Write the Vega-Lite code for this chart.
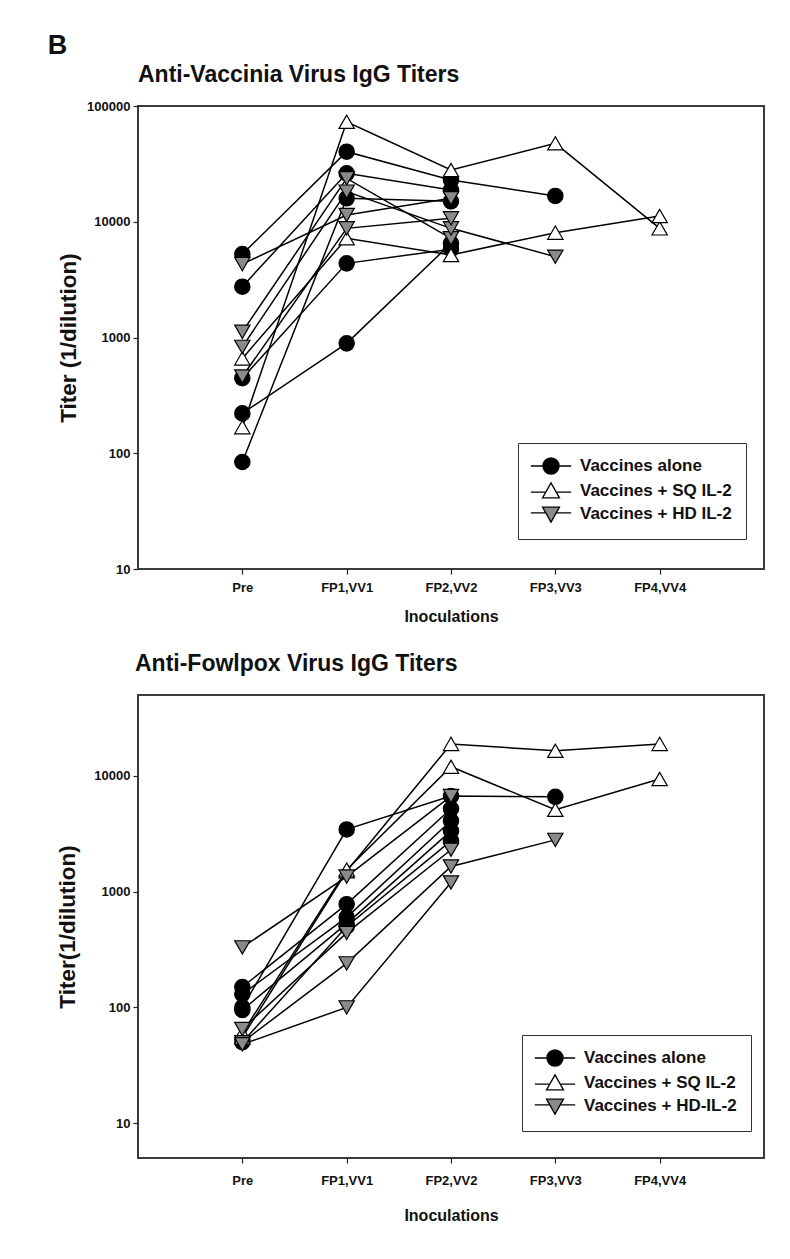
{
  "$schema": "https://vega.github.io/schema/vega-lite/v6.json",
  "background": "white",
  "padding": {"left": 47, "top": 32, "right": 10, "bottom": 5},
  "title": {"text": "B", "anchor": "start", "fontSize": 27, "fontWeight": "bold", "font": "Liberation Sans", "dx": -8, "offset": 3, "color": "#111"},
  "datasets": {
    "vacc": [
      {"id": "C1", "group": "Vaccines alone", "time": "Pre", "step": 0, "titer": 5250},
      {"id": "C1", "group": "Vaccines alone", "time": "FP1,VV1", "step": 1, "titer": 40300},
      {"id": "C1", "group": "Vaccines alone", "time": "FP2,VV2", "step": 2, "titer": 22950},
      {"id": "C1", "group": "Vaccines alone", "time": "FP3,VV3", "step": 3, "titer": 16700},
      {"id": "C2", "group": "Vaccines alone", "time": "Pre", "step": 0, "titer": 2750},
      {"id": "C2", "group": "Vaccines alone", "time": "FP1,VV1", "step": 1, "titer": 26200},
      {"id": "C2", "group": "Vaccines alone", "time": "FP2,VV2", "step": 2, "titer": 18800},
      {"id": "C3", "group": "Vaccines alone", "time": "Pre", "step": 0, "titer": 445},
      {"id": "C3", "group": "Vaccines alone", "time": "FP1,VV1", "step": 1, "titer": 4370},
      {"id": "C3", "group": "Vaccines alone", "time": "FP2,VV2", "step": 2, "titer": 5800},
      {"id": "C4", "group": "Vaccines alone", "time": "Pre", "step": 0, "titer": 221},
      {"id": "C4", "group": "Vaccines alone", "time": "FP1,VV1", "step": 1, "titer": 890},
      {"id": "C4", "group": "Vaccines alone", "time": "FP2,VV2", "step": 2, "titer": 6500},
      {"id": "C5", "group": "Vaccines alone", "time": "Pre", "step": 0, "titer": 84},
      {"id": "C5", "group": "Vaccines alone", "time": "FP1,VV1", "step": 1, "titer": 15950},
      {"id": "C5", "group": "Vaccines alone", "time": "FP2,VV2", "step": 2, "titer": 15000},
      {"id": "U1", "group": "Vaccines + SQ IL-2", "time": "Pre", "step": 0, "titer": 168},
      {"id": "U1", "group": "Vaccines + SQ IL-2", "time": "FP1,VV1", "step": 1, "titer": 73100},
      {"id": "U1", "group": "Vaccines + SQ IL-2", "time": "FP2,VV2", "step": 2, "titer": 28000},
      {"id": "U1", "group": "Vaccines + SQ IL-2", "time": "FP3,VV3", "step": 3, "titer": 47600},
      {"id": "U1", "group": "Vaccines + SQ IL-2", "time": "FP4,VV4", "step": 4, "titer": 8770},
      {"id": "U2", "group": "Vaccines + SQ IL-2", "time": "Pre", "step": 0, "titer": 660},
      {"id": "U2", "group": "Vaccines + SQ IL-2", "time": "FP1,VV1", "step": 1, "titer": 7190},
      {"id": "U2", "group": "Vaccines + SQ IL-2", "time": "FP2,VV2", "step": 2, "titer": 5160},
      {"id": "U2", "group": "Vaccines + SQ IL-2", "time": "FP3,VV3", "step": 3, "titer": 8050},
      {"id": "U2", "group": "Vaccines + SQ IL-2", "time": "FP4,VV4", "step": 4, "titer": 11200},
      {"id": "D1", "group": "Vaccines + HD IL-2", "time": "Pre", "step": 0, "titer": 4310},
      {"id": "D1", "group": "Vaccines + HD IL-2", "time": "FP1,VV1", "step": 1, "titer": 11430},
      {"id": "D1", "group": "Vaccines + HD IL-2", "time": "FP2,VV2", "step": 2, "titer": 15950},
      {"id": "D2", "group": "Vaccines + HD IL-2", "time": "Pre", "step": 0, "titer": 1120},
      {"id": "D2", "group": "Vaccines + HD IL-2", "time": "FP1,VV1", "step": 1, "titer": 23700},
      {"id": "D2", "group": "Vaccines + HD IL-2", "time": "FP2,VV2", "step": 2, "titer": 7190},
      {"id": "D3", "group": "Vaccines + HD IL-2", "time": "Pre", "step": 0, "titer": 830},
      {"id": "D3", "group": "Vaccines + HD IL-2", "time": "FP1,VV1", "step": 1, "titer": 18200},
      {"id": "D3", "group": "Vaccines + HD IL-2", "time": "FP2,VV2", "step": 2, "titer": 8770},
      {"id": "D3", "group": "Vaccines + HD IL-2", "time": "FP3,VV3", "step": 3, "titer": 4990},
      {"id": "D4", "group": "Vaccines + HD IL-2", "time": "Pre", "step": 0, "titer": 460},
      {"id": "D4", "group": "Vaccines + HD IL-2", "time": "FP1,VV1", "step": 1, "titer": 8770},
      {"id": "D4", "group": "Vaccines + HD IL-2", "time": "FP2,VV2", "step": 2, "titer": 10700}
    ],
    "fowl": [
      {"id": "C1", "group": "Vaccines alone", "time": "Pre", "step": 0, "titer": 100},
      {"id": "C1", "group": "Vaccines alone", "time": "FP1,VV1", "step": 1, "titer": 3450},
      {"id": "C1", "group": "Vaccines alone", "time": "FP2,VV2", "step": 2, "titer": 6700},
      {"id": "C1", "group": "Vaccines alone", "time": "FP3,VV3", "step": 3, "titer": 6600},
      {"id": "C2", "group": "Vaccines alone", "time": "Pre", "step": 0, "titer": 150},
      {"id": "C2", "group": "Vaccines alone", "time": "FP1,VV1", "step": 1, "titer": 780},
      {"id": "C2", "group": "Vaccines alone", "time": "FP2,VV2", "step": 2, "titer": 5200},
      {"id": "C3", "group": "Vaccines alone", "time": "Pre", "step": 0, "titer": 130},
      {"id": "C3", "group": "Vaccines alone", "time": "FP1,VV1", "step": 1, "titer": 600},
      {"id": "C3", "group": "Vaccines alone", "time": "FP2,VV2", "step": 2, "titer": 4100},
      {"id": "C4", "group": "Vaccines alone", "time": "Pre", "step": 0, "titer": 95},
      {"id": "C4", "group": "Vaccines alone", "time": "FP1,VV1", "step": 1, "titer": 530},
      {"id": "C4", "group": "Vaccines alone", "time": "FP2,VV2", "step": 2, "titer": 3350},
      {"id": "C5", "group": "Vaccines alone", "time": "Pre", "step": 0, "titer": 50},
      {"id": "C5", "group": "Vaccines alone", "time": "FP1,VV1", "step": 1, "titer": 500},
      {"id": "C5", "group": "Vaccines alone", "time": "FP2,VV2", "step": 2, "titer": 2750},
      {"id": "U1", "group": "Vaccines + SQ IL-2", "time": "Pre", "step": 0, "titer": 55},
      {"id": "U1", "group": "Vaccines + SQ IL-2", "time": "FP1,VV1", "step": 1, "titer": 1500},
      {"id": "U1", "group": "Vaccines + SQ IL-2", "time": "FP2,VV2", "step": 2, "titer": 18900},
      {"id": "U1", "group": "Vaccines + SQ IL-2", "time": "FP3,VV3", "step": 3, "titer": 16500},
      {"id": "U1", "group": "Vaccines + SQ IL-2", "time": "FP4,VV4", "step": 4, "titer": 18900},
      {"id": "U2", "group": "Vaccines + SQ IL-2", "time": "Pre", "step": 0, "titer": 60},
      {"id": "U2", "group": "Vaccines + SQ IL-2", "time": "FP1,VV1", "step": 1, "titer": 1550},
      {"id": "U2", "group": "Vaccines + SQ IL-2", "time": "FP2,VV2", "step": 2, "titer": 12000},
      {"id": "U2", "group": "Vaccines + SQ IL-2", "time": "FP3,VV3", "step": 3, "titer": 5100},
      {"id": "U2", "group": "Vaccines + SQ IL-2", "time": "FP4,VV4", "step": 4, "titer": 9400},
      {"id": "D1", "group": "Vaccines + HD-IL-2", "time": "Pre", "step": 0, "titer": 330},
      {"id": "D1", "group": "Vaccines + HD-IL-2", "time": "FP1,VV1", "step": 1, "titer": 1350},
      {"id": "D1", "group": "Vaccines + HD-IL-2", "time": "FP2,VV2", "step": 2, "titer": 6700},
      {"id": "D2", "group": "Vaccines + HD-IL-2", "time": "Pre", "step": 0, "titer": 65},
      {"id": "D2", "group": "Vaccines + HD-IL-2", "time": "FP1,VV1", "step": 1, "titer": 440},
      {"id": "D2", "group": "Vaccines + HD-IL-2", "time": "FP2,VV2", "step": 2, "titer": 2300},
      {"id": "D3", "group": "Vaccines + HD-IL-2", "time": "Pre", "step": 0, "titer": 50},
      {"id": "D3", "group": "Vaccines + HD-IL-2", "time": "FP1,VV1", "step": 1, "titer": 240},
      {"id": "D3", "group": "Vaccines + HD-IL-2", "time": "FP2,VV2", "step": 2, "titer": 1650},
      {"id": "D3", "group": "Vaccines + HD-IL-2", "time": "FP3,VV3", "step": 3, "titer": 2800},
      {"id": "D4", "group": "Vaccines + HD-IL-2", "time": "Pre", "step": 0, "titer": 48},
      {"id": "D4", "group": "Vaccines + HD-IL-2", "time": "FP1,VV1", "step": 1, "titer": 100},
      {"id": "D4", "group": "Vaccines + HD-IL-2", "time": "FP2,VV2", "step": 2, "titer": 1200}
    ]
  },
  "spacing": 27,
  "resolve": {
    "scale": {"x": "independent", "y": "independent", "shape": "independent", "fill": "independent"},
    "legend": {"shape": "independent", "fill": "independent"}
  },
  "vconcat": [
    {
      "width": 626,
      "height": 463,
      "title": {"text": "Anti-Vaccinia Virus IgG Titers", "anchor": "start", "frame": "group", "fontSize": 23, "offset": 13},
      "data": {"name": "vacc"},
      "encoding": {
        "x": {"field": "time", "type": "ordinal", "title": "Inoculations",
              "scale": {"type": "point", "padding": 1, "domain": ["Pre", "FP1,VV1", "FP2,VV2", "FP3,VV3", "FP4,VV4"]},
              "axis": {"labelAngle": 0, "labelPadding": 7, "titlePadding": 14}},
        "y": {"field": "titer", "type": "quantitative", "title": "Titer (1/dilution)",
              "scale": {"type": "log", "domain": [10, 100000], "nice": false},
              "axis": {"values": [10, 100, 1000, 10000, 100000], "format": "d", "labelPadding": 3, "titlePadding": 6, "titleFontSize": 22.5}}
      },
      "layer": [
        {"mark": {"type": "line", "color": "black", "strokeWidth": 1.5}, "encoding": {"detail": {"field": "id"}, "order": {"field": "step"}}},
        {"mark": {"type": "point", "filled": true, "stroke": "black", "strokeWidth": 1.2, "size": 235, "opacity": 1},
         "encoding": {
           "shape": {"field": "group", "type": "nominal",
                     "scale": {"domain": ["Vaccines + SQ IL-2", "Vaccines alone", "Vaccines + HD IL-2"], "range": ["triangle-up", "circle", "triangle-down"]},
                     "legend": null},
           "fill": {"field": "group", "type": "nominal",
                    "scale": {"domain": ["Vaccines alone", "Vaccines + SQ IL-2", "Vaccines + HD IL-2"], "range": ["black", "white", "#8a8a8a"]},
                    "legend": {"title": null, "orient": "none", "legendX": 380, "legendY": 337, "strokeColor": "#333", "padding": 14, "symbolSize": 260, "symbolOffset": 10, "labelOffset": 20, "rowPadding": 3, "labelFontSize": 17, "labelFontWeight": "bold", "labelFont": "Liberation Sans", "labelColor": "#111", "labelLimit": 300, "symbolStrokeColor": "black", "symbolStrokeWidth": 1.3,
                               "symbolType": {"expr": "indexof(datum.value, 'alone') >= 0 ? 'M-2.5,0H-1M1,0H2.5M-1,0A1,1,0,1,0,1,0A1,1,0,1,0,-1,0Z' : (indexof(datum.value, 'SQ') >= 0 ? 'M-2.5,0.15H-0.65M0.65,0.15H2.5M0,-1L1.05,0.85L-1.05,0.85Z' : 'M-2.5,-0.15H-0.65M0.65,-0.15H2.5M0,1L1.05,-0.85L-1.05,-0.85Z')"},
                               "encode": {"symbols": {"stroke": {"value": "black"}, "strokeWidth": {"value": 1.3}}}}}
         }}
      ]
    },
    {
      "width": 626,
      "height": 463,
      "title": {"text": "Anti-Fowlpox Virus IgG Titers", "anchor": "start", "frame": "group", "fontSize": 23, "offset": 19, "dx": -3},
      "data": {"name": "fowl"},
      "encoding": {
        "x": {"field": "time", "type": "ordinal", "title": "Inoculations",
              "scale": {"type": "point", "padding": 1, "domain": ["Pre", "FP1,VV1", "FP2,VV2", "FP3,VV3", "FP4,VV4"]},
              "axis": {"labelAngle": 0, "labelPadding": 11, "titlePadding": 20}},
        "y": {"field": "titer", "type": "quantitative", "title": "Titer(1/dilution)",
              "scale": {"type": "log", "domain": [5, 50000], "nice": false},
              "axis": {"values": [10, 100, 1000, 10000], "format": "d", "labelPadding": 3, "titlePadding": 14, "titleFontSize": 22.5}}
      },
      "layer": [
        {"mark": {"type": "line", "color": "black", "strokeWidth": 1.5}, "encoding": {"detail": {"field": "id"}, "order": {"field": "step"}}},
        {"mark": {"type": "point", "filled": true, "stroke": "black", "strokeWidth": 1.2, "size": 235, "opacity": 1},
         "encoding": {
           "shape": {"field": "group", "type": "nominal",
                     "scale": {"domain": ["Vaccines + SQ IL-2", "Vaccines alone", "Vaccines + HD-IL-2"], "range": ["triangle-up", "circle", "triangle-down"]},
                     "legend": null},
           "fill": {"field": "group", "type": "nominal",
                    "scale": {"domain": ["Vaccines alone", "Vaccines + SQ IL-2", "Vaccines + HD-IL-2"], "range": ["black", "white", "#8a8a8a"]},
                    "legend": {"title": null, "orient": "none", "legendX": 384, "legendY": 340, "strokeColor": "#333", "padding": 14, "symbolSize": 260, "symbolOffset": 10, "labelOffset": 20, "rowPadding": 3, "labelFontSize": 17, "labelFontWeight": "bold", "labelFont": "Liberation Sans", "labelColor": "#111", "labelLimit": 300, "symbolStrokeColor": "black", "symbolStrokeWidth": 1.3,
                               "symbolType": {"expr": "indexof(datum.value, 'alone') >= 0 ? 'M-2.5,0H-1M1,0H2.5M-1,0A1,1,0,1,0,1,0A1,1,0,1,0,-1,0Z' : (indexof(datum.value, 'SQ') >= 0 ? 'M-2.5,0.15H-0.65M0.65,0.15H2.5M0,-1L1.05,0.85L-1.05,0.85Z' : 'M-2.5,-0.15H-0.65M0.65,-0.15H2.5M0,1L1.05,-0.85L-1.05,-0.85Z')"},
                               "encode": {"symbols": {"stroke": {"value": "black"}, "strokeWidth": {"value": 1.3}}}}}
         }}
      ]
    }
  ],
  "config": {
    "font": "Liberation Sans",
    "view": {"stroke": "#3a3a3a", "strokeWidth": 2},
    "axis": {"grid": false, "domain": false, "tickColor": "#222", "tickSize": 5, "tickWidth": 1.2,
             "labelFont": "Liberation Sans", "labelFontSize": 13, "labelFontWeight": "bold", "labelColor": "#111",
             "titleFont": "Liberation Sans", "titleFontSize": 16, "titleFontWeight": "bold", "titleColor": "#111"},
    "title": {"fontWeight": "bold", "color": "#111", "font": "Liberation Sans"}
  }
}
